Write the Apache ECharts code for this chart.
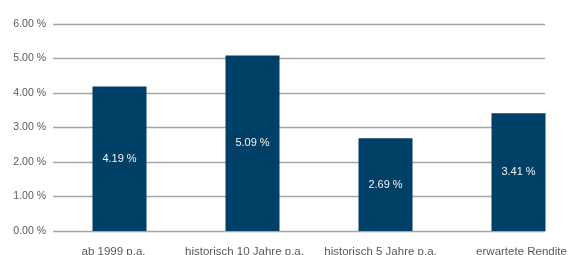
<!DOCTYPE html>
<html>
<head>
<meta charset="utf-8">
<script src="https://cdn.jsdelivr.net/npm/echarts@6/dist/echarts.min.js"></script>
<style>
  html, body { margin: 0; padding: 0; background: #fff; }
  #box { width: 584px; height: 255px; }
</style>
</head>
<body>
<div id="box"></div>
<script>
// Renditen (in %)
const categories = ['ab 1999 p.a.', 'historisch 10 Jahre p.a.', 'historisch 5 Jahre p.a.', 'erwartete Rendite'];
const values = [4.19, 5.09, 2.69, 3.41];
const yTicks = [0, 1, 2, 3, 4, 5, 6];

// small horizontal nudges of the category labels (px), like in the original
const labelShift = [-6, -8, -5, 3];

const chartDom = document.getElementById('box');
const myChart = echarts.init(chartDom);

const font = 'Liberation Sans, Arial, sans-serif';
const fmtPct = v => v.toFixed(2) + ' %';

const catData = categories.map((c, i) => ({
  value: c,
  textStyle: {
    padding: labelShift[i] < 0 ? [0, -2 * labelShift[i], 0, 0] : [0, 0, 0, 2 * labelShift[i]]
  }
}));

var option = {
  animation: false,
  // grid 0: gridlines + y labels, grid 1: bars + category labels
  grid: [
    { left: 53, right: 39, top: 24, bottom: 24, outerBoundsMode: 'none' },
    { left: 53, width: 532, top: 24, bottom: 24, outerBoundsMode: 'none' }
  ],
  xAxis: [
    {
      gridIndex: 0,
      type: 'category',
      data: categories,
      axisLine: { show: false },
      axisTick: { show: false },
      axisLabel: { show: false }
    },
    {
      gridIndex: 1,
      type: 'category',
      data: catData,
      axisLine: { show: false },
      axisTick: { show: false },
      axisLabel: {
        margin: 15,
        interval: 0,
        color: '#595959',
        fontFamily: font,
        fontSize: 11.5
      }
    }
  ],
  yAxis: [
    {
      gridIndex: 0,
      type: 'value',
      min: yTicks[0],
      max: yTicks[yTicks.length - 1],
      interval: 1,
      axisLine: { show: false },
      axisTick: { show: false },
      splitLine: { lineStyle: { color: '#a6a6a6', width: 1.3 } },
      axisLabel: {
        margin: 7,
        color: '#595959',
        fontFamily: font,
        fontSize: 10.5,
        formatter: v => fmtPct(v)
      }
    },
    {
      gridIndex: 1,
      type: 'value',
      min: yTicks[0],
      max: yTicks[yTicks.length - 1],
      interval: 1,
      axisLine: { show: false },
      axisTick: { show: false },
      splitLine: { show: false },
      axisLabel: { show: false }
    }
  ],
  series: [
    {
      type: 'bar',
      xAxisIndex: 1,
      yAxisIndex: 1,
      data: values,
      barWidth: 54,
      itemStyle: { color: '#003f66' },
      label: {
        show: true,
        position: 'inside',
        color: '#f2f2f2',
        fontFamily: font,
        fontSize: 11,
        formatter: p => fmtPct(p.value)
      }
    }
  ]
};
option && myChart.setOption(option);
window.addEventListener('resize', function () {
  if (myChart) {
    myChart.resize();
  }
});
</script>
</body>
</html>
